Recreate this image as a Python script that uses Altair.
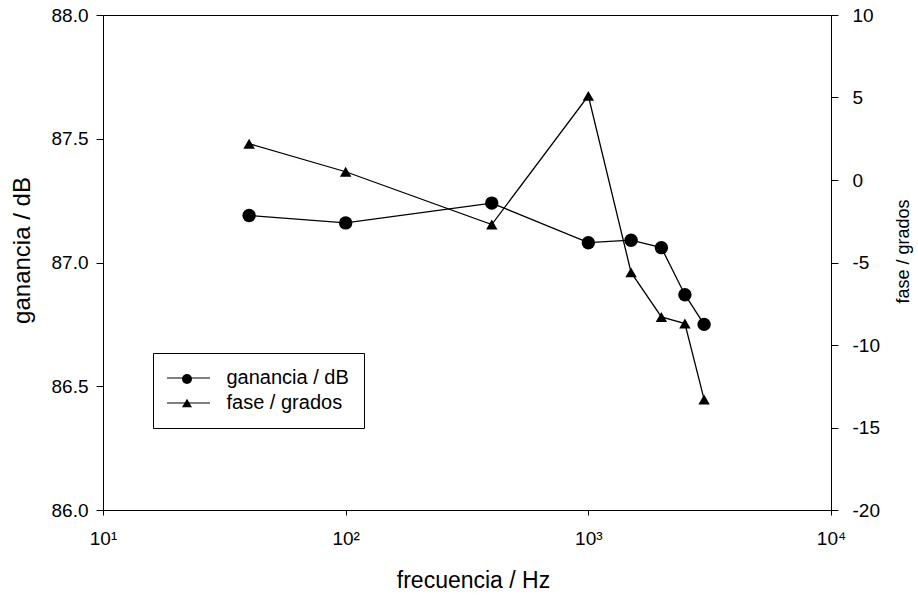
import altair as alt
import pandas as pd

# Measured response: gain (dB) and phase (degrees) against frequency (Hz)
frecuencia = [40, 100, 400, 1000, 1500, 2000, 2500, 3000]
ganancia = [87.19, 87.16, 87.24, 87.08, 87.09, 87.06, 86.87, 86.75]
fase = [2.2, 0.5, -2.7, 5.1, -5.6, -8.3, -8.7, -13.3]

series = ["ganancia / dB", "fase / grados"]
x_ticks = [10, 100, 1000, 10000]
x_tick_labels = ["10¹", "10²", "10³", "10⁴"]
gan_ticks = [86.0, 86.5, 87.0, 87.5, 88.0]
fase_ticks = [-20, -15, -10, -5, 0, 5, 10]

FONT = "Liberation Sans"

df_gan = pd.DataFrame({"frecuencia": frecuencia, "valor": ganancia,
                       "serie": series[0], "forma": series[0]})
df_fase = pd.DataFrame({"frecuencia": frecuencia, "valor": fase,
                        "serie": series[1], "forma": series[1]})

label_expr = " : ".join(
    f"datum.value == {v} ? '{t}'" for v, t in zip(x_ticks, x_tick_labels)
) + " : ''"

x_enc = alt.X(
    "frecuencia:Q",
    scale=alt.Scale(type="log", domain=[10, 10000], nice=False),
    axis=alt.Axis(
        values=x_ticks, labelExpr=label_expr, title="frecuencia / Hz",
        labelFontSize=19, labelPadding=14, tickSize=5, grid=False,
        labelFlush=False, labelOverlap=False,
        titleFontSize=23, titleFontWeight="normal",
        titleX=370, titleY=70, titleBaseline="middle",
        titleAnchor="start", titleAlign="center",
    ),
)

# Line legend (stroke) and marker legend (shape) drawn at the same spot
stroke_enc = alt.Stroke(
    "serie:N", sort=series,
    scale=alt.Scale(range=["black", "black"]),
    legend=alt.Legend(
        title=None, orient="none", legendX=50, legendY=338, direction="vertical",
        symbolType="M-4.3,0L4.3,0", symbolSize=100, symbolStrokeWidth=1.2,
        symbolStrokeColor="black", symbolOffset=10.5,
        labelFont=FONT, labelFontSize=20, labelColor="black",
        labelOffset=28, rowPadding=5, padding=15,
        strokeColor="black", cornerRadius=0, labelLimit=400,
    ),
)
shape_enc = alt.Shape(
    "forma:N", sort=series,
    scale=alt.Scale(range=["circle", "triangle-up"]),
    legend=alt.Legend(
        title=None, orient="none", legendX=50, legendY=339, direction="vertical",
        symbolSize=100, symbolOffset=9, symbolStrokeWidth=0,
        symbolFillColor="black", labelExpr="''", labelFontSize=20,
        labelOffset=0, rowPadding=4, padding=15,
    ),
)

y_gan = alt.Y(
    "valor:Q",
    scale=alt.Scale(domain=[86, 88], nice=False, zero=False),
    axis=alt.Axis(
        orient="left", values=gan_ticks, format=".1f", title="ganancia / dB",
        labelFontSize=19, labelPadding=8, tickSize=7, grid=False,
        labelFlush=False, labelOverlap=False,
        titleFontSize=24, titleFontWeight="normal", titleAngle=270,
        titleX=-81, titleY=235,
        titleBaseline="middle", titleAlign="center", titleAnchor="start",
    ),
)
y_fase = alt.Y(
    "valor:Q",
    scale=alt.Scale(domain=[-20, 10], nice=False, zero=False),
    axis=alt.Axis(
        orient="right", values=fase_ticks, labelExpr="datum.value + ''",
        title="fase / grados",
        labelFontSize=19, labelPadding=14, tickSize=7, grid=False,
        labelFlush=False, labelOverlap=False,
        titleFontSize=18, titleFontWeight="normal", titleAngle=270,
        titleX=72, titleY=236,
        titleBaseline="middle", titleAlign="center", titleAnchor="start",
    ),
)

base_gan = alt.Chart(df_gan)
capa_gan = alt.layer(
    base_gan.mark_line(strokeWidth=1.3).encode(x=x_enc, y=y_gan, stroke=stroke_enc),
    base_gan.mark_point(filled=True, color="black", size=180, opacity=1).encode(
        x=x_enc, y=y_gan, shape=shape_enc),
)

base_fase = alt.Chart(df_fase)
capa_fase = alt.layer(
    base_fase.mark_line(strokeWidth=1.3).encode(x=x_enc, y=y_fase, stroke=stroke_enc),
    base_fase.mark_point(filled=True, color="black", size=130, opacity=1).encode(
        x=x_enc, y=y_fase, shape=shape_enc),
)

chart = (
    alt.layer(capa_gan, capa_fase)
    .resolve_scale(y="independent")
    .properties(
        width=728, height=495,
        autosize=alt.AutoSizeParams(type="none"),
        padding={"left": 103, "top": 15, "right": 87, "bottom": 86},
        background="white",
    )
    .configure_view(stroke="black", strokeWidth=1)
    .configure_axis(
        domainColor="black", tickColor="black", labelColor="black",
        titleColor="black", labelFont=FONT, titleFont=FONT,
        titleFontWeight="normal", grid=False, labelFlush=False,
        labelOverlap=False, domainWidth=1, tickWidth=1,
    )
)

chart.save("out.html", embed_options={"renderer": "svg", "actions": False})
